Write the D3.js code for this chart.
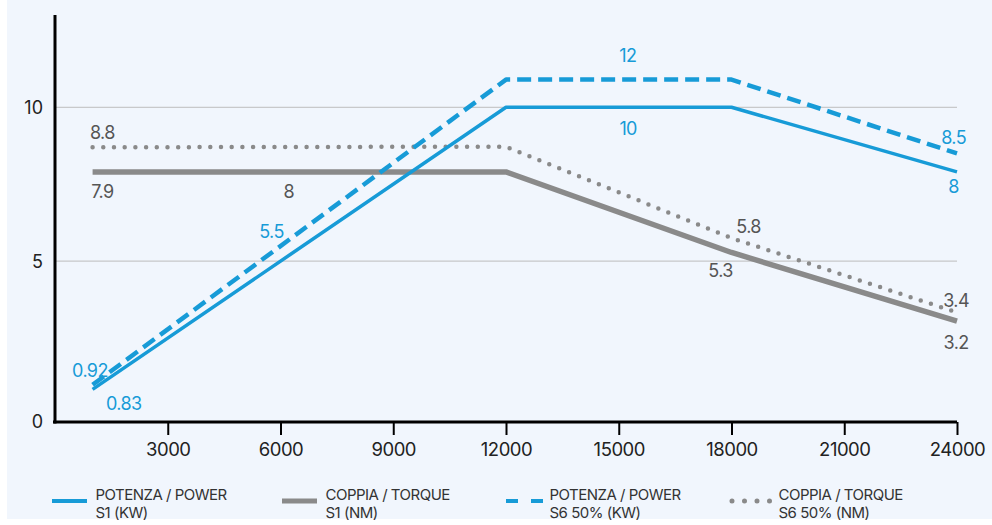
<!DOCTYPE html>
<html>
<head>
<meta charset="utf-8">
<script src="https://cdn.jsdelivr.net/npm/d3@7"></script>
<style>
  html, body { margin: 0; padding: 0; background: #ffffff; }
  svg { display: block; font-family: Inter, "Noto Sans", sans-serif; }
</style>
</head>
<body>
<div id="chart"></div>
<script>
// rpm on x, shared value axis on y
const rpm = [1000, 12000, 18000, 24000];
const powerS1 = [0.83, 10, 10, 7.9];
const torqueS1 = [7.9, 7.9, 5.28, 3.05];
const powerS6 = [0.98, 10.9, 10.9, 8.5];
const torqueS6 = [8.7, 8.72, 5.75, 3.33];

const xTicks = [3000, 6000, 9000, 12000, 15000, 18000, 21000, 24000];
const yTicks = [0, 5, 10];

// value labels: anchor rpm, anchor value, text
const powerS1Labels = [[1830, 0.16, "0.83"], [15250, 9.09, "10"], [23910, 7.21, "8"]];
const powerS6Labels = [[930, 1.23, "0.92"], [5760, 5.75, "5.5"], [15240, 11.46, "12"], [23910, 8.8, "8.5"]];
const torqueS1Labels = [[1260, 7.05, "7.9"], [6220, 7.05, "8"], [17710, 4.48, "5.3"], [23975, 2.14, "3.2"]];
const torqueS6Labels = [[1260, 8.96, "8.8"], [18455, 5.91, "5.8"], [23975, 3.51, "3.4"]];

const legendNames = [
  ["POTENZA / POWER", "S1 (KW)"],
  ["COPPIA / TORQUE", "S1 (NM)"],
  ["POTENZA / POWER", "S6 50% (KW)"],
  ["COPPIA / TORQUE", "S6 50% (NM)"]
];

const BLUE = "#179bd7";
const GREY = "#8a8a8a";

const width = 992, height = 525;

const svg = d3.select("#chart").append("svg")
  .attr("width", width)
  .attr("height", height);

// panel background
svg.append("rect")
  .attr("x", 7).attr("y", 0)
  .attr("width", width - 7).attr("height", 519)
  .attr("fill", "#f1f6fd");

const x = d3.scaleLinear().domain([0, 24000]).range([55, 957]);
const y = d3.scaleLinear().domain([-0.23, 13]).range([422, 15]);

// gridlines
svg.append("g")
  .selectAll("line")
  .data(yTicks.filter(d => d > 0))
  .enter().append("line")
  .attr("x1", x(0)).attr("x2", x(24000))
  .attr("y1", d => y(d)).attr("y2", d => y(d))
  .attr("stroke", "#bdbdbd")
  .attr("stroke-width", 1);

// y labels (0 sits on the axis line)
svg.append("g")
  .selectAll("text")
  .data(yTicks)
  .enter().append("text")
  .attr("x", 43)
  .attr("y", d => d === 0 ? y(-0.23) : y(d))
  .attr("dy", "0.36em")
  .attr("text-anchor", "end")
  .attr("font-size", 18)
  .attr("fill", "#222")
  .text(d => d);

// x axis
const xAxis = svg.append("g")
  .attr("transform", `translate(0,${y(-0.23)})`)
  .call(d3.axisBottom(x).tickValues(xTicks).tickFormat(d3.format("d"))
    .tickSize(13).tickPadding(8).tickSizeOuter(0));
xAxis.select(".domain").attr("stroke", "#000").attr("stroke-width", 3)
  .attr("d", `M${x(0) - 2},0H${x(24000)}`);
xAxis.selectAll(".tick line").attr("stroke", "#000").attr("stroke-width", 2);
xAxis.selectAll(".tick text")
  .attr("font-size", 18.5)
  .attr("font-family", "Inter, 'Noto Sans', sans-serif")
  .attr("letter-spacing", "-0.5")
  .attr("fill", "#222");

// y axis line
svg.append("line")
  .attr("x1", x(0)).attr("x2", x(0))
  .attr("y1", y(13)).attr("y2", y(-0.23) + 1.5)
  .attr("stroke", "#000")
  .attr("stroke-width", 3);

const line = d3.line()
  .x(d => x(d[0]))
  .y(d => y(d[1]));

const series = [
  { values: torqueS1, color: GREY, width: 5.5, dash: null, cap: "butt" },
  { values: torqueS6, color: GREY, width: 4.5, dash: "0,10.7", cap: "round" },
  { values: powerS6, color: BLUE, width: 4.5, dash: "14,7", cap: "butt" },
  { values: powerS1, color: BLUE, width: 3.5, dash: null, cap: "butt" }
];

svg.append("g")
  .selectAll("path")
  .data(series)
  .enter().append("path")
  .attr("d", d => line(d3.zip(rpm, d.values)))
  .attr("fill", "none")
  .attr("stroke", d => d.color)
  .attr("stroke-width", d => d.width)
  .attr("stroke-dasharray", d => d.dash)
  .attr("stroke-linecap", d => d.cap)
  .attr("stroke-linejoin", "round");

// value labels
const labelGroups = [
  { labels: powerS1Labels, color: BLUE },
  { labels: powerS6Labels, color: BLUE },
  { labels: torqueS1Labels, color: "#555" },
  { labels: torqueS6Labels, color: "#555" }
];

labelGroups.forEach(g => {
  svg.append("g")
    .selectAll("text")
    .data(g.labels)
    .enter().append("text")
    .attr("x", d => x(d[0]))
    .attr("y", d => y(d[1]))
    .attr("text-anchor", "middle")
    .attr("font-size", 18)
    .attr("letter-spacing", "-0.6")
    .attr("fill", g.color)
    .text(d => d[2]);
});

// legend
const legendX = [52, 282, 506, 730];
const legendSym = [
  { color: BLUE, width: 4, dash: null, cap: "butt", len: 35 },
  { color: GREY, width: 5, dash: null, cap: "butt", len: 35 },
  { color: BLUE, width: 4, dash: "12,13", cap: "butt", len: 37 },
  { color: GREY, width: 5, dash: "0,12.5", cap: "round", len: 40 }
];

const legend = svg.append("g")
  .selectAll("g")
  .data(legendNames)
  .enter().append("g")
  .attr("transform", (d, i) => `translate(${legendX[i]},0)`);

legend.append("line")
  .attr("x1", (d, i) => legendSym[i].cap === "round" ? 2 : 0)
  .attr("x2", (d, i) => legendSym[i].len)
  .attr("y1", 501).attr("y2", 501)
  .attr("stroke", (d, i) => legendSym[i].color)
  .attr("stroke-width", (d, i) => legendSym[i].width)
  .attr("stroke-dasharray", (d, i) => legendSym[i].dash)
  .attr("stroke-linecap", (d, i) => legendSym[i].cap);

legend.append("text")
  .attr("x", (d, i) => i === 3 ? 48.5 : 43.5)
  .attr("y", 499.5)
  .attr("font-size", 15)
  .attr("letter-spacing", "-0.5")
  .attr("fill", "#333")
  .text(d => d[0]);

legend.append("text")
  .attr("x", (d, i) => i === 3 ? 48.5 : 43.5)
  .attr("y", 518)
  .attr("font-size", 15)
  .attr("letter-spacing", "-0.5")
  .attr("fill", "#333")
  .text(d => d[1]);
</script>
</body>
</html>
